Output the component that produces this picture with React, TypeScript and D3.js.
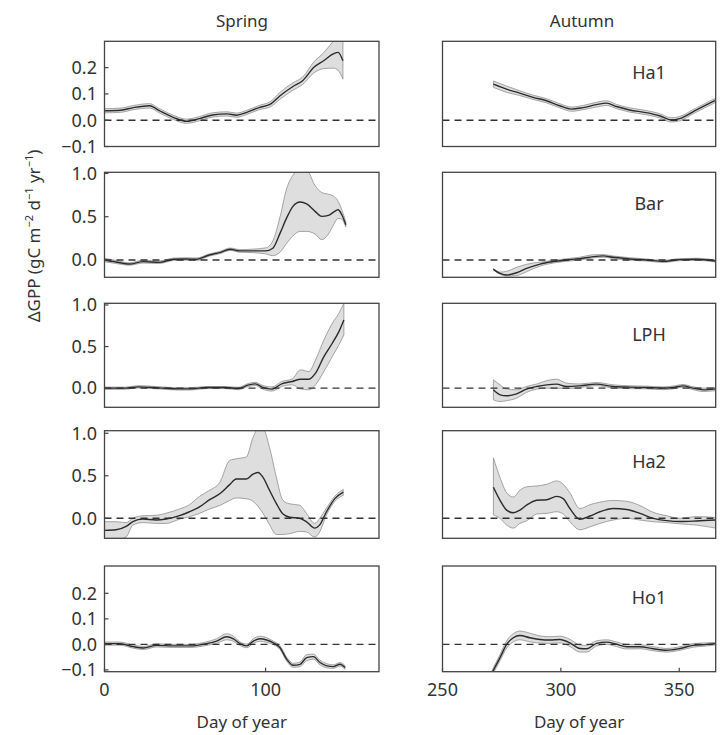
import React from "react";
import * as d3 from "d3";

// ---------- data ----------
const seasons = ["Spring", "Autumn"];
const sites = ["Ha1", "Bar", "LPH", "Ha2", "Ho1"];
const springTicks = [0, 100];
const autumnTicks = [250, 300, 350];
const yTicksSmall = [-0.1, 0.0, 0.1, 0.2];
const yTicksLarge = [0.0, 0.5, 1.0];
const yTickLabelsSmall = ["−0.1", "0.0", "0.1", "0.2"];
const yTickLabelsLarge = ["0.0", "0.5", "1.0"];

// Spring Ha1
const sHa1Day = [0, 10, 18, 28, 34, 43, 51, 59, 67, 76, 82, 88, 96, 103, 109, 117, 123, 130, 136, 142, 145, 148];
const sHa1Mean = [0.036, 0.038, 0.048, 0.055, 0.036, 0.01, -0.004, 0.006, 0.02, 0.024, 0.019, 0.029, 0.048, 0.061, 0.093, 0.128, 0.15, 0.201, 0.226, 0.252, 0.258, 0.226];
const sHa1Lo = [0.028, 0.03, 0.04, 0.046, 0.028, 0.002, -0.012, -0.002, 0.012, 0.016, 0.011, 0.021, 0.04, 0.051, 0.08, 0.114, 0.136, 0.18, 0.196, 0.198, 0.19, 0.156];
const sHa1Hi = [0.044, 0.046, 0.056, 0.063, 0.044, 0.018, 0.004, 0.014, 0.028, 0.032, 0.027, 0.037, 0.056, 0.071, 0.106, 0.142, 0.164, 0.222, 0.256, 0.3, 0.32, 0.32];

// Autumn Ha1
const aHa1Day = [271.5, 277, 282.6, 288.3, 293.9, 299.5, 304.5, 309.4, 315, 319.3, 323.5, 329, 336, 341.7, 346.7, 350.2, 355.8, 360.8, 365];
const aHa1Mean = [0.137, 0.118, 0.103, 0.087, 0.074, 0.055, 0.042, 0.048, 0.059, 0.065, 0.052, 0.039, 0.029, 0.017, 0.001, 0.006, 0.032, 0.055, 0.074];
const aHa1Lo = [0.125, 0.106, 0.094, 0.079, 0.066, 0.047, 0.034, 0.04, 0.05, 0.056, 0.044, 0.031, 0.021, 0.009, -0.007, -0.002, 0.024, 0.047, 0.066];
const aHa1Hi = [0.149, 0.13, 0.112, 0.095, 0.082, 0.063, 0.05, 0.056, 0.068, 0.074, 0.06, 0.047, 0.037, 0.025, 0.009, 0.014, 0.04, 0.063, 0.082];

// Spring Bar
const sBarDay = [0, 7, 15.5, 24, 34, 43, 51, 57, 65, 71.5, 78, 84, 92, 100, 104.5, 109, 113, 117, 121.4, 125.5, 130.7, 134.8, 139, 142, 145, 147.3, 149.8];
const sBarMean = [0, -0.023, -0.047, -0.019, -0.027, 0.008, 0.012, 0.008, 0.058, 0.085, 0.124, 0.105, 0.105, 0.105, 0.136, 0.31, 0.484, 0.62, 0.67, 0.647, 0.562, 0.504, 0.515, 0.55, 0.58, 0.523, 0.407];
const sBarLo = [-0.02, -0.04, -0.06, -0.035, -0.04, -0.005, -0.002, -0.006, 0.045, 0.072, 0.11, 0.09, 0.085, 0.07, 0.05, 0.09, 0.19, 0.28, 0.33, 0.33, 0.3, 0.235, 0.3, 0.4, 0.48, 0.47, 0.38];
const sBarHi = [0.02, -0.005, -0.032, -0.003, -0.012, 0.022, 0.026, 0.022, 0.07, 0.098, 0.138, 0.12, 0.125, 0.14, 0.22, 0.5, 0.82, 0.98, 1.05, 1.04, 0.86, 0.78, 0.76, 0.74, 0.68, 0.58, 0.44];

// Autumn Bar
const aBarDay = [271.5, 274.3, 277.1, 281.3, 285.5, 291.2, 296.8, 302.4, 308, 313.7, 317.9, 322.1, 329.1, 336.1, 343.2, 350.2, 357.3, 365.3];
const aBarMean = [-0.108, -0.155, -0.174, -0.147, -0.097, -0.047, -0.019, 0, 0.016, 0.039, 0.047, 0.031, 0.012, 0, -0.016, 0.004, 0.008, -0.012];
const aBarLo = [-0.115, -0.165, -0.185, -0.18, -0.135, -0.07, -0.035, -0.015, 0.0, 0.024, 0.032, 0.016, -0.002, -0.012, -0.028, -0.008, -0.004, -0.024];
const aBarHi = [-0.1, -0.14, -0.13, -0.085, -0.05, -0.025, -0.005, 0.015, 0.032, 0.06, 0.062, 0.046, 0.026, 0.012, -0.004, 0.016, 0.02, 0.0];

// Spring LPH
const sLphDay = [0, 13, 21, 34, 46, 54, 63, 75, 83, 89.6, 93.7, 97.9, 104, 110, 116.5, 121.7, 126.9, 131, 136.2, 141.4, 145.5, 148.6];
const sLphMean = [0, 0, 0.016, 0.004, -0.008, -0.008, 0.008, 0.008, -0.004, 0.04, 0.052, 0.012, -0.012, 0.052, 0.08, 0.108, 0.108, 0.18, 0.38, 0.54, 0.68, 0.82];
const sLphLo = [-0.015, -0.013, 0.003, -0.01, -0.022, -0.022, -0.005, -0.005, -0.018, 0.022, 0.032, -0.01, -0.035, 0.02, 0.04, -0.008, -0.02, 0.04, 0.2, 0.38, 0.52, 0.64];
const sLphHi = [0.013, 0.012, 0.03, 0.017, 0.005, 0.005, 0.02, 0.02, 0.01, 0.058, 0.07, 0.035, 0.015, 0.08, 0.11, 0.22, 0.2, 0.34, 0.58, 0.78, 0.9, 1.02];

// Autumn LPH
const aLphDay = [271.5, 274.3, 277.1, 281.3, 285.5, 289.8, 294, 298.2, 302.4, 308, 315, 322.1, 329.1, 336.1, 343.2, 347.4, 351.6, 355.8, 360.1, 365.3];
const aLphMean = [-0.02, -0.08, -0.092, -0.068, -0.012, 0.02, 0.04, 0.048, 0.02, 0.028, 0.048, 0.02, 0.012, 0.008, 0, 0.008, 0.028, 0, -0.02, -0.008];
const aLphLo = [-0.14, -0.16, -0.15, -0.12, -0.05, -0.012, 0.0, 0.0, -0.005, 0.008, 0.03, 0.002, -0.005, -0.008, -0.018, -0.008, 0.012, -0.018, -0.04, -0.03];
const aLphHi = [0.1, 0.04, -0.01, -0.02, 0.02, 0.05, 0.09, 0.108, 0.06, 0.05, 0.068, 0.04, 0.028, 0.024, 0.015, 0.025, 0.044, 0.016, 0.0, 0.01];

// Spring Ha2
const sHa2Day = [0, 7.2, 13.4, 17.6, 23.8, 32.1, 38.3, 46.6, 52.8, 59, 65.3, 71.5, 77.7, 81.8, 88, 92.2, 95.3, 98.4, 102.5, 106.7, 110.8, 115, 121.2, 125.3, 130.5, 133.6, 137.8, 143, 148.2];
const sHa2Mean = [-0.142, -0.135, -0.096, -0.038, -0.008, -0.019, -0.008, 0.031, 0.077, 0.135, 0.219, 0.288, 0.396, 0.462, 0.462, 0.519, 0.538, 0.481, 0.327, 0.173, 0.05, 0.012, 0, -0.038, -0.115, -0.077, 0.077, 0.231, 0.308];
const sHa2Lo = [-0.25, -0.25, -0.22, -0.08, -0.05, -0.06, -0.06, -0.01, 0.02, 0.058, 0.11, 0.15, 0.21, 0.24, 0.23, 0.2, 0.14, 0.058, -0.077, -0.19, -0.19, -0.18, -0.154, -0.16, -0.22, -0.16, 0.04, 0.2, 0.27];
const sHa2Hi = [-0.04, -0.04, -0.05, 0.0, 0.03, 0.035, 0.06, 0.11, 0.16, 0.258, 0.33, 0.42, 0.68, 0.7, 0.72, 0.95, 1.05, 1.05, 0.83, 0.48, 0.21, 0.17, 0.154, 0.06, -0.06, 0.0, 0.12, 0.26, 0.34];

// Autumn Ha2
const aHa2Day = [271.5, 274.3, 277.1, 279.9, 282.7, 285.5, 289.8, 294, 298.2, 301, 303.8, 308, 312.3, 316.5, 322.1, 327.8, 333.4, 339, 344.7, 350.3, 357.3, 365.3];
const aHa2Mean = [0.365, 0.212, 0.096, 0.065, 0.096, 0.154, 0.212, 0.219, 0.258, 0.231, 0.115, -0.012, 0.027, 0.077, 0.115, 0.104, 0.058, 0, -0.027, -0.038, -0.031, -0.019];
const aHa2Lo = [0.04, 0.0, -0.08, -0.115, -0.06, -0.03, 0.05, 0.058, 0.077, 0.05, -0.04, -0.135, -0.1, -0.06, -0.02, 0.0, -0.02, -0.04, -0.05, -0.065, -0.08, -0.115];
const aHa2Hi = [0.71, 0.48, 0.3, 0.25, 0.33, 0.37, 0.38, 0.4, 0.44, 0.4, 0.3, 0.115, 0.16, 0.19, 0.21, 0.2, 0.15, 0.07, 0.03, 0.0, 0.02, 0.01];

// Spring Ho1
const sHo1Day = [0, 9.6, 17.9, 24.1, 32.4, 42.7, 53.1, 63.4, 69.6, 75.8, 80, 84.1, 88.3, 92.4, 96.5, 100.7, 104.8, 109, 113.1, 117.2, 121.4, 125.5, 129.7, 133.8, 138, 142.1, 146.2, 149.3];
const sHo1Mean = [0.003, 0.003, -0.009, -0.014, -0.004, -0.006, -0.006, 0.003, 0.013, 0.03, 0.022, 0.003, -0.006, 0.013, 0.022, 0.017, 0.006, -0.013, -0.058, -0.082, -0.078, -0.052, -0.048, -0.071, -0.084, -0.087, -0.078, -0.091];
const sHo1Lo = [-0.003, -0.003, -0.015, -0.02, -0.01, -0.012, -0.012, -0.004, 0.004, 0.018, 0.012, -0.004, -0.013, 0.004, 0.012, 0.008, -0.001, -0.02, -0.066, -0.09, -0.087, -0.064, -0.058, -0.08, -0.092, -0.094, -0.085, -0.098];
const sHo1Hi = [0.009, 0.009, -0.003, -0.008, 0.002, 0.0, 0.0, 0.01, 0.022, 0.042, 0.032, 0.01, 0.001, 0.022, 0.032, 0.026, 0.013, -0.006, -0.05, -0.074, -0.069, -0.04, -0.038, -0.062, -0.076, -0.08, -0.071, -0.084];

// Autumn Ho1
const aHo1Day = [271, 274.3, 277.1, 279.9, 282.7, 286.9, 291.2, 295.4, 299.6, 303.8, 308, 310.9, 315.1, 319.3, 323.6, 327.8, 333.4, 339, 344.7, 350.3, 355.9, 361.6, 365.3];
const aHo1Mean = [-0.11, -0.052, 0, 0.026, 0.035, 0.026, 0.019, 0.017, 0.019, 0.006, -0.016, -0.017, 0.004, 0.009, 0, -0.009, -0.009, -0.017, -0.023, -0.016, -0.004, 0, 0.003];
const aHo1Lo = [-0.12, -0.064, -0.014, 0.01, 0.018, 0.01, 0.005, 0.004, 0.006, -0.008, -0.03, -0.03, -0.006, 0.0, -0.009, -0.018, -0.017, -0.025, -0.03, -0.023, -0.011, -0.006, -0.002];
const aHo1Hi = [-0.1, -0.04, 0.014, 0.042, 0.052, 0.044, 0.033, 0.03, 0.032, 0.02, -0.002, -0.004, 0.014, 0.018, 0.009, 0.0, -0.001, -0.009, -0.016, -0.009, 0.003, 0.006, 0.008];

// y-domains per site row
const rowDomains: [number, number][] = [
  [-0.1, 0.3],
  [-0.2, 1.013],
  [-0.23, 1.02],
  [-0.235, 1.03],
  [-0.107, 0.307],
];

// ---------- layout ----------
const W = 722;
const H = 735;
const rowTops = [41.3, 172.3, 303.3, 430.7, 566];
const rowBottoms = [146.5, 277.3, 407.3, 538.3, 671.7];
const colX: [number, number][] = [
  [104.5, 379],
  [442.5, 715.7],
];
const FONT = "'Noto Sans', 'Open Sans', sans-serif";
const TXT = "#333";

const zip = (d: number[], m: number[], lo: number[], hi: number[]) =>
  d.map((x, i) => ({ x, m: m[i], lo: lo[i], hi: hi[i] }));

const seriesTable = [
  [zip(sHa1Day, sHa1Mean, sHa1Lo, sHa1Hi), zip(aHa1Day, aHa1Mean, aHa1Lo, aHa1Hi)],
  [zip(sBarDay, sBarMean, sBarLo, sBarHi), zip(aBarDay, aBarMean, aBarLo, aBarHi)],
  [zip(sLphDay, sLphMean, sLphLo, sLphHi), zip(aLphDay, aLphMean, aLphLo, aLphHi)],
  [zip(sHa2Day, sHa2Mean, sHa2Lo, sHa2Hi), zip(aHa2Day, aHa2Mean, aHa2Lo, aHa2Hi)],
  [zip(sHo1Day, sHo1Mean, sHo1Lo, sHo1Hi), zip(aHo1Day, aHo1Mean, aHo1Lo, aHo1Hi)],
];

const xScales = [
  d3.scaleLinear().domain([0, 170.4]).range(colX[0]),
  d3.scaleLinear().domain([250, 365.4]).range(colX[1]),
];

export default function App() {
  const panels: React.ReactNode[] = [];
  sites.forEach((site, r) => {
    const y = d3.scaleLinear().domain(rowDomains[r]).range([rowBottoms[r], rowTops[r]]);
    const small = r === 0 || r === 4;
    const ticks = small ? yTicksSmall : yTicksLarge;
    const tickLabels = small ? yTickLabelsSmall : yTickLabelsLarge;
    [0, 1].forEach((c) => {
      const x = xScales[c];
      const data = seriesTable[r][c];
      const area = d3
        .area<any>()
        .x((d) => x(d.x))
        .y0((d) => y(d.lo))
        .y1((d) => y(d.hi))
        .curve(d3.curveMonotoneX);
      const line = d3
        .line<any>()
        .x((d) => x(d.x))
        .y((d) => y(d.m))
        .curve(d3.curveMonotoneX);
      const [x0, x1] = x.range();
      const y0 = rowTops[r];
      const y1 = rowBottoms[r];
      const id = `clip-${r}-${c}`;
      panels.push(
        <g key={id}>
          <clipPath id={id}>
            <rect x={x0} y={y0} width={x1 - x0} height={y1 - y0} />
          </clipPath>
          <g clipPath={`url(#${id})`}>
            <path d={area(data) || ""} fill="#dedede" stroke="#8f8f8f" strokeWidth={0.8} />
            <line x1={x0} x2={x1} y1={y(0)} y2={y(0)} stroke="#333" strokeWidth={1.4} strokeDasharray="7,5" />
            <path d={line(data) || ""} fill="none" stroke="#2b2b2b" strokeWidth={1.4} />
          </g>
          <rect x={x0} y={y0} width={x1 - x0} height={y1 - y0} fill="none" stroke="#444" strokeWidth={1.3} />
          {c === 0 &&
            ticks.map((t, i) => (
              <g key={`yt${i}`}>
                <line x1={x0} x2={x0 + 4} y1={y(t)} y2={y(t)} stroke="#444" strokeWidth={1.2} />
                <text x={97} y={y(t)} dy="0.35em" textAnchor="end" fontSize={18} fill={TXT} fontFamily={FONT}>
                  {tickLabels[i]}
                </text>
              </g>
            ))}
          {c === 1 && (
            <text x={649} y={y0 + 37.5} textAnchor="middle" fontSize={18} fill={TXT} fontFamily={FONT}>
              {site}
            </text>
          )}
          {r === sites.length - 1 &&
            (c === 0 ? springTicks : autumnTicks).map((t) => (
              <g key={`xt${t}`}>
                <line x1={x(t)} x2={x(t)} y1={y1} y2={y1 - 4} stroke="#444" strokeWidth={1.2} />
                <text x={x(t)} y={696} textAnchor="middle" fontSize={18} fill={TXT} fontFamily={FONT}>
                  {t}
                </text>
              </g>
            ))}
          {r === sites.length - 1 && (
            <text x={(x0 + x1) / 2} y={728} textAnchor="middle" fontSize={17} fill={TXT} fontFamily={FONT}>
              Day of year
            </text>
          )}
          {r === 0 && (
            <text x={c === 0 ? 242 : 582} y={26.5} textAnchor="middle" fontSize={17} fill={TXT} fontFamily={FONT}>
              {seasons[c]}
            </text>
          )}
        </g>
      );
    });
  });

  return (
    <svg width={W} height={H} style={{ position: "absolute", left: 0, top: 0, display: "block", background: "#fff" }}>
      <rect width={W} height={H} fill="#fff" />
      {panels}
      <text transform="translate(40,236) rotate(-90)" textAnchor="middle" fontSize={17} fill={TXT} fontFamily={FONT}>
        ΔGPP (gC m<tspan dy="-7" fontSize={11}>−2</tspan>
        <tspan dy="7"> d</tspan>
        <tspan dy="-7" fontSize={11}>−1</tspan>
        <tspan dy="7"> yr</tspan>
        <tspan dy="-7" fontSize={11}>−1</tspan>
        <tspan dy="7">)</tspan>
      </text>
    </svg>
  );
}
